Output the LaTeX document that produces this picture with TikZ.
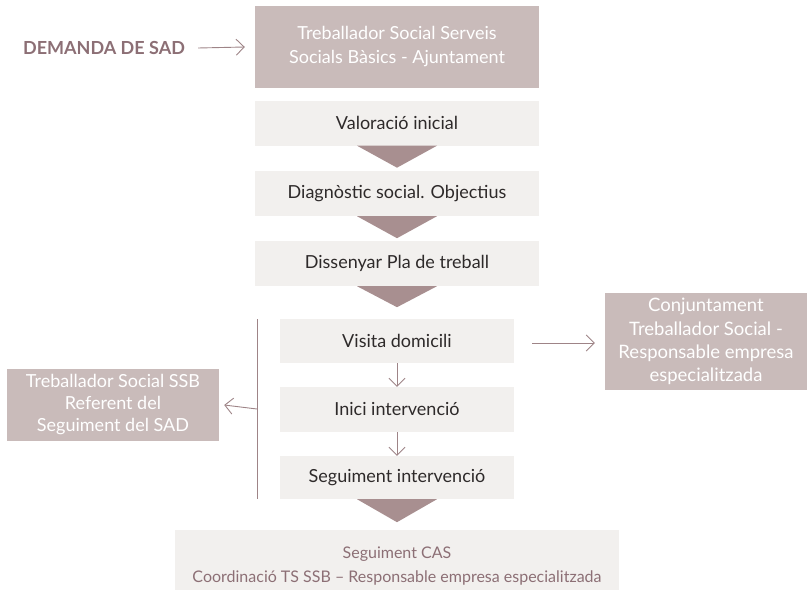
\documentclass[tikz,border=0pt]{standalone}
\usepackage{fontspec}
\setmainfont{Lato}
\usetikzlibrary{calc,arrows.meta}
\definecolor{boxdark}{HTML}{C9BBBA}
\definecolor{boxlight}{HTML}{F2F0EE}
\definecolor{trifill}{HTML}{A88F90}
\definecolor{linemauve}{HTML}{9E8487}
\definecolor{textmauve}{HTML}{8C6F75}
\definecolor{textdark}{HTML}{2E2A2A}
\tikzset{
	darkbox/.style={fill=boxdark,text=white,align=center,inner sep=0pt,font=\fontsize{18}{24}\selectfont},
	lightbox/.style={fill=boxlight,text=textdark,align=center,inner sep=0pt,minimum height=45pt,font=\fontsize{18}{22}\selectfont},
	arr/.style={draw=linemauve,line width=0.9pt,-{Straight Barb[length=8pt,width=16pt,line width=0.9pt]}},
	tri/.style={fill=trifill}
}
\begin{document}
\begin{tikzpicture}[x=1pt,y=-1pt]
	\useasboundingbox (0,0) rectangle (808,589);
	\node[darkbox,minimum width=284pt,minimum height=82pt] (ts) at (397,47) {Treballador Social Serveis\\Socials Bàsics - Ajuntament};
	\node[text=textmauve,font=\fontsize{18}{22}\selectfont\bfseries,inner sep=0pt] (demanda) at (104,48) {DEMANDA DE SAD};
	\node[lightbox,minimum width=284pt] (val) at (397,123) {Valoració inicial};
	\node[lightbox,minimum width=284pt] (diag) at (397,193.5) {Diagnòstic social. Objectius};
	\node[lightbox,minimum width=284pt] (diss) at (397,263.5) {Dissenyar Pla de treball};
	\node[lightbox,minimum width=234pt,minimum height=44pt] (visita) at (397,341) {Visita domicili};
	\node[lightbox,minimum width=234pt] (inici) at (397,409.5) {Inici intervenció};
	\node[lightbox,minimum width=234pt,minimum height=43pt] (seg) at (397,477.5) {Seguiment intervenció};
	\node[lightbox,minimum width=444pt,minimum height=72pt,text=textmauve,font=\fontsize{16}{24}\selectfont] (cas) at (397,566) {Seguiment CAS\\Coordinació TS SSB – Responsable empresa especialitzada};
	\node[darkbox,minimum width=202pt,minimum height=97pt,font=\fontsize{18.5}{23.3}\selectfont] (conj) at (706,341.5) {Conjuntament\\Treballador Social -\\Responsable empresa\\especialitzada};
	\node[darkbox,minimum width=212pt,minimum height=72pt,font=\fontsize{18}{22}\selectfont] (ssb) at (113,405) {Treballador Social SSB\\Referent del\\Seguiment del SAD};
	\foreach \n/\h in {val/22,diag/22,diss/21,seg/23}
		\fill[tri] ($(\n.south)+(-40,0)$) -- ($(\n.south)+(40,0)$) -- ($(\n.south)+(0,\h)$) -- cycle;
	\coordinate (lt) at (257,319);
	\coordinate (lb) at (257,499);
	\coordinate (lm) at (257,409);
	\draw[draw=linemauve,line width=0.9pt] (lt) -- (lb);
	\draw[arr] (lm) -- ($(ssb.east)+(5,0)$);
	\draw[arr] ($(demanda.east)+(13,0)$) -- ($(ts.west)+(-10,0)$);
	\draw[arr] ($(visita.east)+(18,2)$) -- ($(conj.west)+(-10,1.5)$);
	\draw[arr] (visita) -- (inici);
	\draw[arr] (inici) -- (seg);
\end{tikzpicture}
\end{document}
